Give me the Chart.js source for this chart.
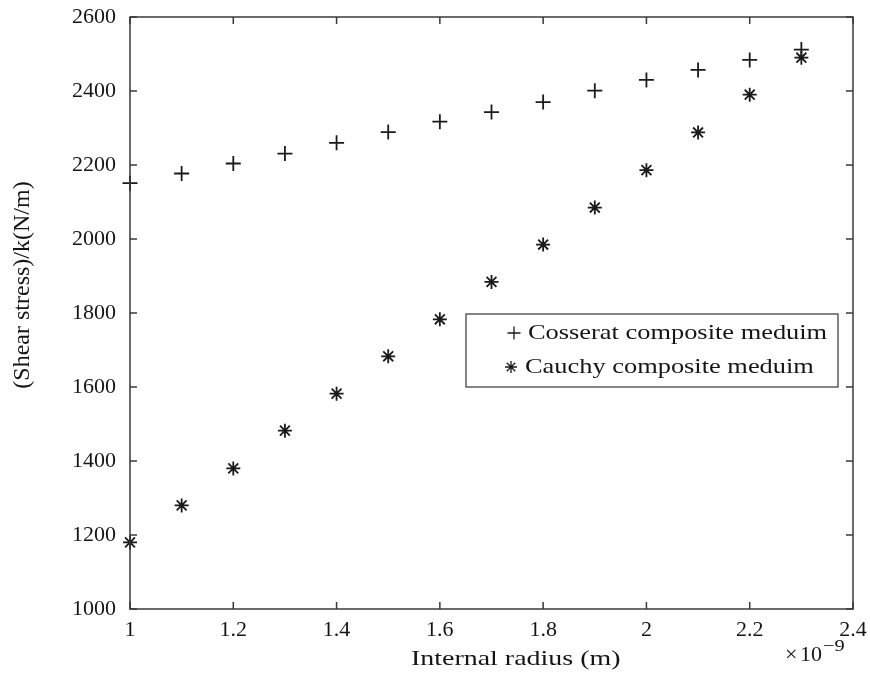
<!DOCTYPE html>
<html>
<head>
<meta charset="utf-8">
<script src="https://cdn.jsdelivr.net/npm/chart.js@4.4.1/dist/chart.umd.min.js"></script>
<style>
  html, body { margin: 0; padding: 0; background: #fff; }
  #wrap { width: 870px; height: 675px; }
</style>
</head>
<body>
<div id="wrap"><canvas id="stressChart" width="870" height="675"></canvas></div>
<script>
// internal radius, in units of 1e-9 m
const radius = [1.0, 1.1, 1.2, 1.3, 1.4, 1.5, 1.6, 1.7, 1.8, 1.9, 2.0, 2.1, 2.2, 2.3];
const cosseratStress = [2151, 2177, 2204, 2231, 2260, 2289, 2317, 2343, 2370, 2401, 2430, 2457, 2484, 2512];
const cauchyStress = [1180, 1280, 1380, 1482, 1582, 1683, 1783, 1884, 1985, 2085, 2186, 2288, 2390, 2490];
const xTicks = [1, 1.2, 1.4, 1.6, 1.8, 2, 2.2, 2.4];
const yTicks = [1000, 1200, 1400, 1600, 1800, 2000, 2200, 2400, 2600];

const axisColor = "#3a3a3a";
const markColor = "#1a1a1a";
const textColor = "#151515";
const serif = "'Liberation Serif', 'Times New Roman', serif";

// text in the original is a little wider than Times, so stretch it a bit
function wideText(ctx, text, x, y, sx) {
  ctx.save();
  ctx.translate(x, y);
  ctx.scale(sx, 1);
  ctx.fillText(text, 0, 0);
  ctx.restore();
}

// frame, inward ticks on all four sides, axis titles, x10^-9 note and boxed legend
const matlabAxes = {
  id: "matlabAxes",
  afterDraw(chart) {
    const { ctx, chartArea: a, scales } = chart;
    ctx.save();
    ctx.strokeStyle = axisColor;
    ctx.lineWidth = 1.5;
    ctx.strokeRect(a.left, a.top, a.right - a.left, a.bottom - a.top);
    const len = 7;
    ctx.beginPath();
    xTicks.forEach((v) => {
      const px = scales.x.getPixelForValue(v);
      ctx.moveTo(px, a.bottom); ctx.lineTo(px, a.bottom - len);
      ctx.moveTo(px, a.top); ctx.lineTo(px, a.top + len);
    });
    yTicks.forEach((v) => {
      const py = scales.y.getPixelForValue(v);
      ctx.moveTo(a.left, py); ctx.lineTo(a.left + len, py);
      ctx.moveTo(a.right, py); ctx.lineTo(a.right - len, py);
    });
    ctx.stroke();

    ctx.fillStyle = textColor;
    ctx.textBaseline = "alphabetic";
    ctx.textAlign = "left";

    // x axis title
    ctx.font = "22px " + serif;
    wideText(ctx, "Internal radius (m)", 411, 665, 1.27);

    // y axis title, rotated
    ctx.save();
    ctx.translate(23, 285);
    ctx.rotate(-Math.PI / 2);
    ctx.font = "24px " + serif;
    ctx.textAlign = "center";
    ctx.textBaseline = "middle";
    ctx.fillText("(Shear stress)/k(N/m)", 0, 0);
    ctx.restore();

    // exponent note
    ctx.font = "22px " + serif;
    wideText(ctx, "\u00d7", 785, 661, 1.0);
    wideText(ctx, "10", 800, 661, 1.0);
    ctx.font = "17px " + serif;
    wideText(ctx, "\u22129", 823, 651, 1.2);

    // legend box
    const bx = 466, by = 314, bw = 372, bh = 73;
    ctx.fillStyle = "#fff";
    ctx.fillRect(bx, by, bw, bh);
    ctx.strokeStyle = "#444";
    ctx.lineWidth = 1.3;
    ctx.strokeRect(bx, by, bw, bh);
    chart.data.datasets.forEach((ds, i) => {
      const cy = by + 19 + i * 34;
      ctx.strokeStyle = markColor;
      Chart.helpers.drawPoint(ctx, {
        pointStyle: ds.pointStyle, radius: ds.pointRadius - 1,
        borderWidth: ds.borderWidth, rotation: 0
      }, i === 0 ? 514 : 511, cy);
      ctx.fillStyle = textColor;
      ctx.font = "22px " + serif;
      ctx.textBaseline = "middle";
      wideText(ctx, ds.label, i === 0 ? 528 : 525, cy, 1.2);
    });
    ctx.restore();
  }
};

const chart = new Chart(document.getElementById("stressChart"), {
  type: "scatter",
  data: {
    datasets: [
      {
        label: "Cosserat composite meduim",
        data: radius.map((r, i) => ({ x: r, y: cosseratStress[i] })),
        pointStyle: "cross",
        pointRadius: 7.5,
        borderWidth: 1.8,
        borderColor: markColor,
        backgroundColor: markColor,
        clip: false,
      },
      {
        label: "Cauchy composite meduim",
        data: radius.map((r, i) => ({ x: r, y: cauchyStress[i] })),
        pointStyle: "star",
        pointRadius: 7,
        borderWidth: 1.8,
        borderColor: markColor,
        backgroundColor: markColor,
        clip: false,
      },
    ],
  },
  options: {
    responsive: false,
    animation: false,
    layout: { padding: { top: 17, right: 17, left: 0, bottom: 0 } },
    plugins: {
      legend: { display: false },
      tooltip: { enabled: false },
    },
    scales: {
      x: {
        type: "linear",
        min: 1,
        max: 2.4,
        afterBuildTicks: (scale) => { scale.ticks = xTicks.map((v) => ({ value: v })); },
        afterFit: (scale) => {
          scale.height = 66;
          scale.paddingLeft = 0;
          scale.paddingRight = 0;
        },
        grid: { display: false, drawTicks: false },
        border: { display: false },
        ticks: {
          color: textColor,
          padding: 8,
          maxRotation: 0,
          font: { family: serif, size: 22 },
          callback: (v) => String(+Number(v).toFixed(1)),
        },
        title: { display: false },
      },
      y: {
        type: "linear",
        min: 1000,
        max: 2600,
        afterBuildTicks: (scale) => { scale.ticks = yTicks.map((v) => ({ value: v })); },
        afterFit: (scale) => {
          scale.width = 130;
          scale.paddingTop = 0;
          scale.paddingBottom = 0;
        },
        grid: { display: false, drawTicks: false },
        border: { display: false },
        ticks: {
          color: textColor,
          padding: 14,
          font: { family: serif, size: 22 },
          callback: (v) => String(v),
        },
        title: { display: false },
      },
    },
  },
  plugins: [matlabAxes],
});
</script>
</body>
</html>
